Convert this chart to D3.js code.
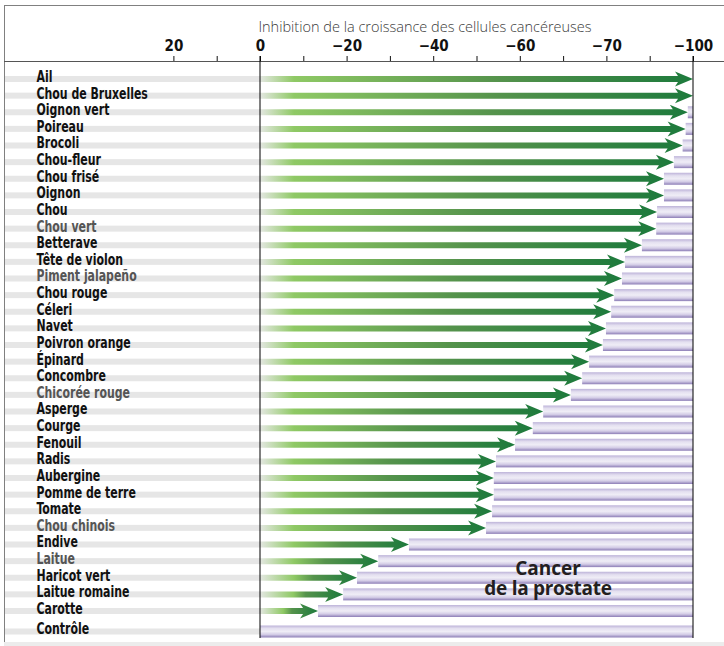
<!DOCTYPE html>
<html>
<head>
<meta charset="utf-8">
<script src="https://cdn.jsdelivr.net/npm/d3@7"></script>
<style>
  body { margin: 0; background: #fff; }
  .label { font-family: "DejaVu Sans Condensed", "DejaVu Sans", sans-serif; font-weight: bold; font-size: 16px; }
  .tick-label { font-family: "DejaVu Sans Condensed", "DejaVu Sans", sans-serif; font-weight: bold; font-size: 15px; fill: #111; }
</style>
</head>
<body>
<div id="chart"></div>
<script>
var vegetables = ["Ail", "Chou de Bruxelles", "Oignon vert", "Poireau", "Brocoli", "Chou-fleur",
  "Chou frisé", "Oignon", "Chou", "Chou vert", "Betterave", "Tête de violon", "Piment jalapeño",
  "Chou rouge", "Céleri", "Navet", "Poivron orange", "Épinard", "Concombre", "Chicorée rouge",
  "Asperge", "Courge", "Fenouil", "Radis", "Aubergine", "Pomme de terre", "Tomate", "Chou chinois",
  "Endive", "Laitue", "Haricot vert", "Laitue romaine", "Carotte", "Contrôle"];

var inhibition = [-100, -100, -98.8, -98.3, -97.6, -95.6, -93.3, -93.3, -91.7, -91.5, -88.2,
  -84.3, -83.6, -81.8, -81.1, -79.9, -79.2, -76.0, -74.4, -71.8, -65.4, -63.0, -58.9, -54.5,
  -54.0, -54.0, -53.6, -52.2, -34.4, -27.3, -22.4, -19.2, -13.4, 0];

var greyLabels = ["Chou vert", "Piment jalapeño", "Chicorée rouge", "Chou chinois", "Laitue"];

var tickValues = [20, 10, 0, -10, -20, -30, -40, -50, -60, -70, -80, -90, -100];
var tickLabels = ["20", "", "0", "", "−20", "", "−40", "", "−60", "", "−70", "", "−100"];

var width = 724, height = 646,
    labelSquash = 0.76;

var svg = d3.select('#chart').append('svg')
    .attr('width', width)
    .attr('height', height);

var xScale = d3.scaleLinear().domain([0, -100]).range([260, 693]);
var yScale = d3.scaleLinear().domain([0, 32]).range([79, 611]);
function rowY(i) { return i < 33 ? yScale(i) : yScale(32) + 20.5; }

var defs = svg.append('defs');

var purple = defs.append('linearGradient')
    .attr('id', 'purple')
    .attr('x1', 0).attr('y1', 0).attr('x2', 0).attr('y2', 1);
[[0, '#bdb3d9'], [0.25, '#e4e0f0'], [0.5, '#efedf6'], [0.75, '#d3cce6'], [1, '#8c7db6']]
  .forEach(function(s) {
    purple.append('stop').attr('offset', s[0]).attr('stop-color', s[1]);
  });

// frame
svg.append('line')
    .attr('x1', 4).attr('x2', width).attr('y1', 5.5).attr('y2', 5.5)
    .style('stroke', '#808080');
svg.append('line')
    .attr('x1', 4.5).attr('x2', 4.5).attr('y1', 5).attr('y2', height)
    .style('stroke', '#808080');
svg.append('rect')
    .attr('x', 4).attr('y', 642).attr('width', width - 4).attr('height', 4)
    .style('fill', '#ececec');

svg.append('text')
    .attr('x', 425)
    .attr('y', 32)
    .style('text-anchor', 'middle')
    .style('font-family', '"Open Sans", sans-serif')
    .style('font-weight', 300)
    .style('font-size', '14.5px')
    .style('fill', '#3a3a3a')
    .text('Inhibition de la croissance des cellules cancéreuses');

// top axis
var axis = svg.append('g')
    .attr('transform', 'translate(0,61)')
    .call(d3.axisTop(xScale)
      .tickValues(tickValues)
      .tickSize(5)
      .tickFormat(function(d, i) { return tickLabels[i]; }));
axis.select('.domain').remove();
axis.selectAll('.tick line').style('stroke', '#111');
axis.selectAll('.tick text')
    .attr('class', 'tick-label')
    .attr('y', -10);
axis.attr('font-family', null).attr('font-size', null);

svg.append('line')
    .attr('x1', 4).attr('x2', width).attr('y1', 61.5).attr('y2', 61.5)
    .style('stroke', '#555');

var rows = svg.selectAll('.row')
    .data(vegetables)
  .enter().append('g')
    .attr('class', 'row');

// grey label bands
rows.append('rect')
    .attr('x', 5)
    .attr('y', function(d, i) { return rowY(i) - 3; })
    .attr('width', xScale(0) - 5)
    .attr('height', 6)
    .style('fill', '#e6e6e6');

// purple remaining bars
rows.append('rect')
    .attr('x', function(d, i) { return xScale(inhibition[i]); })
    .attr('y', function(d, i) { return rowY(i) - 6; })
    .attr('width', function(d, i) { return xScale(-100) - xScale(inhibition[i]); })
    .attr('height', 12)
    .style('fill', 'url(#purple)');

// green arrows, one gradient each so short arrows fade too
inhibition.forEach(function(v, i) {
  if (v === 0) return;
  var x0 = xScale(0), x1 = xScale(v), len = x1 - x0;
  var g = defs.append('linearGradient')
      .attr('id', 'green' + i)
      .attr('gradientUnits', 'userSpaceOnUse')
      .attr('x1', x0).attr('x2', x1).attr('y1', 0).attr('y2', 0);
  g.append('stop').attr('offset', 0).attr('stop-color', '#e4e7e2');
  g.append('stop').attr('offset', Math.min(0.4, 34 / len)).attr('stop-color', '#8fc965');
  g.append('stop').attr('offset', 0.55).attr('stop-color', '#55934c');
  g.append('stop').attr('offset', 1).attr('stop-color', '#1d7a3c');
});

rows.filter(function(d, i) { return inhibition[i] !== 0; })
  .append('path')
    .attr('d', function(d) {
      var i = vegetables.indexOf(d);
      var x0 = xScale(0), x1 = xScale(inhibition[i]), y = rowY(i);
      var p = d3.path();
      p.moveTo(x0, y - 3);
      p.lineTo(x1 - 15, y - 3);
      p.lineTo(x1 - 18, y - 7.5);
      p.lineTo(x1, y);
      p.lineTo(x1 - 18, y + 7.5);
      p.lineTo(x1 - 15, y + 3);
      p.lineTo(x0, y + 3);
      p.closePath();
      return p.toString();
    })
    .style('fill', function(d) { return 'url(#green' + vegetables.indexOf(d) + ')'; });

// labels, squashed horizontally to mimic a condensed face
rows.append('text')
    .attr('class', 'label')
    .attr('transform', 'scale(' + labelSquash + ',1)')
    .attr('x', 36.5 / labelSquash)
    .attr('y', function(d, i) { return rowY(i) + 3; })
    .style('fill', function(d) { return greyLabels.indexOf(d) >= 0 ? '#555' : '#111'; })
    .text(function(d) { return d; });

// axis verticals
svg.append('line')
    .attr('x1', xScale(0)).attr('x2', xScale(0)).attr('y1', 56).attr('y2', 638)
    .style('stroke', '#000');
svg.append('line')
    .attr('x1', xScale(-100)).attr('x2', xScale(-100)).attr('y1', 56).attr('y2', 638)
    .style('stroke', '#000');

var note = svg.append('g')
    .style('text-anchor', 'middle')
    .style('font-family', '"Open Sans", sans-serif')
    .style('font-weight', 700)
    .style('font-size', '19px')
    .style('fill', '#231f20');
note.append('text').attr('x', 548).attr('y', 575).text('Cancer');
note.append('text').attr('x', 548).attr('y', 595)
    .style('letter-spacing', '-0.3px')
    .text('de la prostate');
</script>
</body>
</html>
